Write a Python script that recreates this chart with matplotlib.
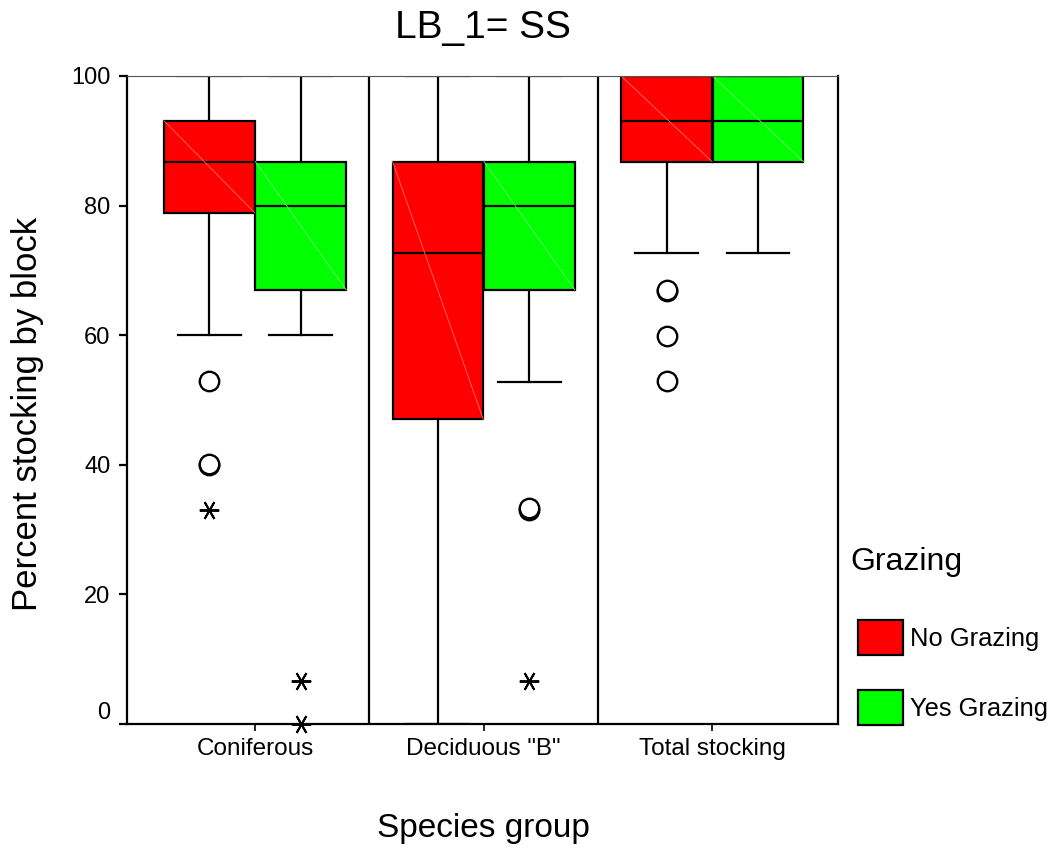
import matplotlib
matplotlib.use("Agg")
import matplotlib.pyplot as plt
from matplotlib.patches import Patch
import matplotlib.transforms as mtransforms

plt.rcParams['font.family'] = ['Liberation Sans', 'DejaVu Sans']

# Data: box statistics per species group and grazing treatment
categories = ['Coniferous', 'Deciduous "B"', 'Total stocking']
groups = ['No Grazing', 'Yes Grazing']
colors = ['#ff0000', '#00ff00']
diag_colors = ['#ff7070', '#70ff70']

# rows: No Grazing, Yes Grazing; columns follow categories
whisker_hi = [[100, 100, 100], [100, 100, 100]]
q3 = [[93.1, 86.8, 100], [86.8, 86.8, 100]]
median = [[86.8, 72.7, 93.1], [80, 80, 93.1]]
q1 = [[78.9, 47.0, 86.8], [67.0, 67.0, 86.8]]
whisker_lo = [[60, 0, 72.7], [60, 52.8, 72.7]]

# outliers (circles) and extreme values (stars)
outliers = [[[52.9, 40.0, 40.2], [], [66.8, 67.0, 59.9, 52.9]],
            [[], [33.1, 33.3], []]]
extremes = [[[33.1], [], []],
            [[6.7, 0.0], [6.7], []]]

W, H = 1057, 852
fig = plt.figure(figsize=(W / 100, H / 100), dpi=100)
ax = fig.add_axes([127 / W, 1 - 724 / H, 711 / W, 648 / H])

offsets = [-0.2, 0.2]
box_w = 0.397
cap_w = 0.275

for g in range(2):
    stats = []
    positions = []
    for c in range(3):
        stats.append(dict(med=median[g][c], q1=q1[g][c], q3=q3[g][c],
                          whislo=whisker_lo[g][c], whishi=whisker_hi[g][c],
                          fliers=[]))
        positions.append(c + offsets[g])
    ax.bxp(stats, positions=positions, widths=box_w, patch_artist=True,
           showfliers=False, capwidths=cap_w,
           boxprops=dict(facecolor=colors[g], edgecolor='black', linewidth=1.6),
           medianprops=dict(color='black', linewidth=1.6),
           whiskerprops=dict(color='black', linewidth=1.6),
           capprops=dict(color='black', linewidth=1.6),
           manage_ticks=False)
    for c in range(3):
        x0 = c + offsets[g] - box_w / 2
        x1 = c + offsets[g] + box_w / 2
        ax.plot([x0, x1], [q3[g][c], q1[g][c]], color=diag_colors[g],
                lw=0.6, zorder=2.5)
        if outliers[g][c]:
            ax.plot([c + offsets[g]] * len(outliers[g][c]), outliers[g][c],
                    linestyle='none', marker='o', markersize=14,
                    markerfacecolor='white', markeredgecolor='black',
                    markeredgewidth=1.7, zorder=4, clip_on=False)
        if extremes[g][c]:
            ax.plot([c + offsets[g]] * len(extremes[g][c]), extremes[g][c],
                    linestyle='none', marker=(6, 2, 90), markersize=14,
                    color='black', markeredgewidth=1.4, zorder=4, clip_on=False)

# category separators
for xs in [0.5, 1.5]:
    ax.axvline(xs, color='black', lw=1.6, zorder=1)

ax.set_xlim(-0.56, 2.55)
ax.set_ylim(0, 100)
ax.set_xticks(range(3))
ax.set_xticklabels(categories, fontsize=17.5)
ax.set_yticks([0, 20, 40, 60, 80, 100])
ax.set_yticklabels(['0', '20', '40', '60', '80', '100'], fontsize=17)
ax.tick_params(axis='y', length=6, width=1.6, pad=6)
ax.tick_params(axis='x', length=5, width=1.2, pad=5)

# lift the zero label slightly above its tick
zero_lbl = ax.get_yticklabels()[0]
zero_lbl.set_transform(zero_lbl.get_transform() +
                       mtransforms.ScaledTranslation(0, 10 / 72, fig.dpi_scale_trans))

for side in ['left', 'bottom', 'right']:
    ax.spines[side].set_linewidth(1.6)
ax.spines['top'].set_linewidth(0.8)
ax.spines['top'].set_color('#555555')

ax.set_title('LB_1= SS', fontsize=28, pad=27)
ax.set_xlabel('Species group', fontsize=24, va='center')
ax.xaxis.set_label_coords(0.502, (724 - 828) / 648)
ax.set_ylabel('Percent stocking by block', fontsize=25, va='center')
ax.yaxis.set_label_coords((28 - 127) / 711, (724 - 414) / 648)

fig.text(850 / W, 1 - 562 / H, 'Grazing', fontsize=23, ha='left', va='center')
handles = [Patch(facecolor=colors[i], edgecolor='black', linewidth=1.6,
                 label=groups[i]) for i in range(2)]
fig.legend(handles=handles, loc='upper left',
           bbox_to_anchor=(858 / W, 1 - 620 / H), frameon=False,
           fontsize=18.4, borderpad=0, borderaxespad=0,
           handlelength=1.76, handleheight=1.73, labelspacing=1.37,
           handletextpad=0.27)

fig.savefig('out.png', dpi=100)
